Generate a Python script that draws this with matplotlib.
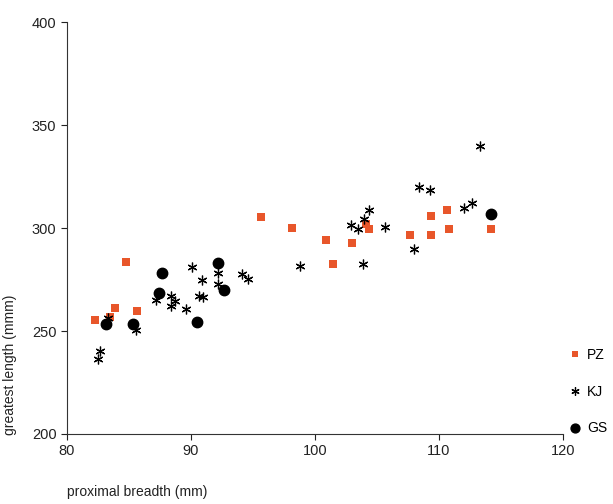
import matplotlib.pyplot as plt

plt.rcParams['font.family'] = ['Liberation Sans', 'DejaVu Sans']

# values
pz_x = [82.3, 83.5, 83.9, 84.8, 85.7, 95.7, 98.2, 100.9, 101.5, 103.0, 104.1, 104.4,
        107.7, 109.4, 109.4, 110.7, 110.8, 114.2]
pz_y = [255.3, 257.0, 261.3, 283.3, 259.7, 305.5, 300.1, 294.2, 282.5, 292.6, 301.9, 299.7,
        296.6, 305.8, 296.6, 308.7, 299.7, 299.7]

kj_x = [82.5, 82.7, 83.3, 85.6, 87.2, 88.4, 88.7, 88.4, 89.6, 90.1, 90.9, 90.7, 91.0,
        92.2, 92.2, 94.1, 94.6, 98.8, 102.9, 103.5, 104.0, 104.4, 103.9, 105.7, 108.0,
        108.4, 109.3, 112.0, 112.7, 113.3]
kj_y = [236.4, 240.3, 256.5, 250.5, 264.9, 267.0, 264.6, 262.1, 260.8, 281.1, 274.8, 266.8, 266.5,
        278.3, 272.7, 277.7, 275.2, 281.7, 301.5, 299.7, 304.2, 308.7, 282.7, 300.6, 290.0,
        319.9, 318.3, 309.7, 312.3, 340.1]

gs_x = [83.2, 85.3, 87.7, 87.4, 90.5, 92.2, 92.7, 114.2]
gs_y = [253.3, 253.4, 278.0, 268.6, 254.2, 282.9, 269.9, 306.6]

fig = plt.figure(figsize=(6.13, 5.04), dpi=100)
ax = fig.add_axes([0.109, 0.139, 0.809, 0.817])

ax.plot(pz_x, pz_y, 's', color='#E8562A', markersize=5.5, markeredgewidth=0, label='PZ')
ax.plot(kj_x, kj_y, marker=(6, 2, 0), linestyle='none', color='black', markersize=7,
        markeredgewidth=0.9, label='KJ')
ax.plot(gs_x, gs_y, 'o', color='black', markersize=7.5, label='GS')

ax.set_xlim(80, 120)
ax.set_ylim(200, 400)
ax.set_xticks([80, 90, 100, 110, 120])
ax.set_yticks([200, 250, 300, 350, 400])
for s in ['top', 'right']:
    ax.spines[s].set_visible(False)
for s in ['left', 'bottom']:
    ax.spines[s].set_color('#333333')
ax.tick_params(direction='out', length=4, labelsize=10.5, colors='#222222')

ax.legend(loc='lower left', bbox_to_anchor=(0.92, 0.125), bbox_transform=fig.transFigure,
          frameon=False, fontsize=10, labelspacing=1.65, handlelength=0.8,
          handletextpad=0.45, borderaxespad=0, markerscale=0.85)

fig.text(0.109, 0.01, 'proximal breadth (mm)', fontsize=10, color='#222222', ha='left', va='bottom')
fig.text(0.016, 0.137, 'greatest length (mmm)', fontsize=10, color='#222222', rotation=90,
         ha='center', va='bottom')

fig.savefig('out.png', dpi=100)
